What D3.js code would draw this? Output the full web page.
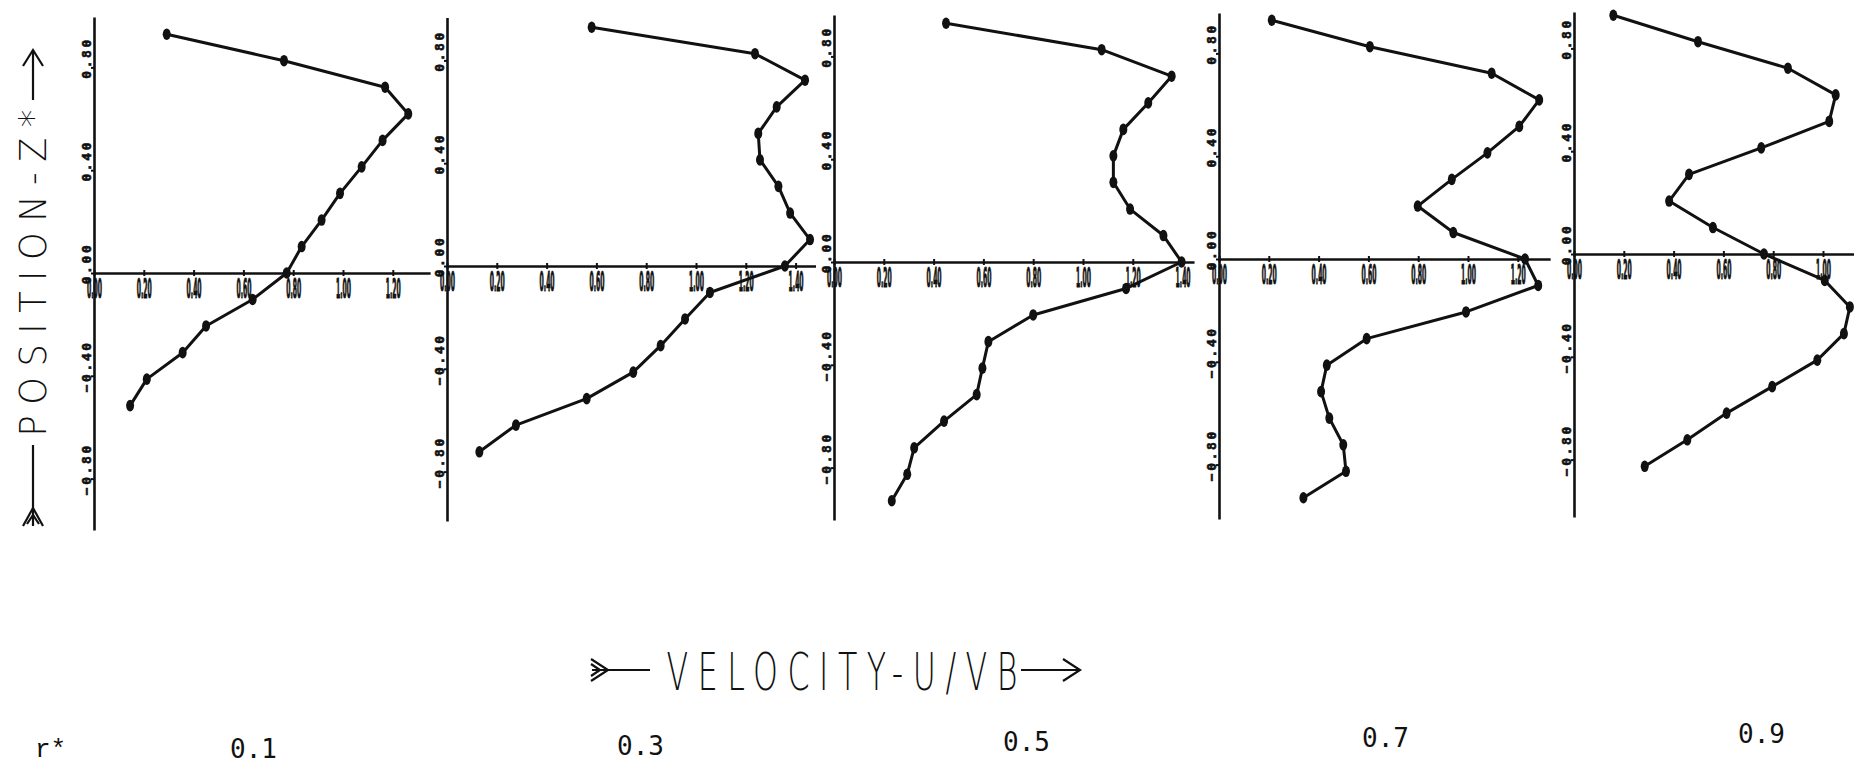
<!DOCTYPE html>
<html><head><meta charset="utf-8">
<script src="https://cdn.jsdelivr.net/npm/d3@7"></script>
<style>body{margin:0;background:#fff}svg{display:block}</style>
</head><body>
<svg id="c" width="1854" height="766"></svg>
<script>
// ---- data ----
const rStarLabel = "r*";
const rStar = ["0.1", "0.3", "0.5", "0.7", "0.9"];
// dimensionless position Z* of the measuring points (shared by all profiles)
const zLevels = [0.929, 0.826, 0.723, 0.619, 0.516, 0.413, 0.310, 0.206, 0.103, 0.000,
                 -0.103, -0.206, -0.310, -0.413, -0.516, -0.619, -0.723, -0.826, -0.929];
// velocity U/VB for each r*
const u01 = [0.292, 0.763, 1.169, 1.262, 1.159, 1.075, 0.988, 0.914, 0.834, 0.774, 0.637, 0.450, 0.356, 0.212, 0.145];
const u03 = [0.581, 1.237, 1.438, 1.324, 1.250, 1.257, 1.331, 1.378, 1.458, 1.357, 1.056, 0.956, 0.858, 0.748, 0.561, 0.277, 0.130];
const u05 = [0.450, 1.075, 1.356, 1.262, 1.162, 1.122, 1.122, 1.189, 1.323, 1.396, 1.173, 0.800, 0.620, 0.596, 0.573, 0.442, 0.322, 0.294, 0.232];
const u07 = [0.212, 0.606, 1.095, 1.286, 1.206, 1.078, 0.935, 0.798, 0.941, 1.229, 1.282, 0.992, 0.593, 0.433, 0.410, 0.443, 0.499, 0.510, 0.339];
const u09 = [0.158, 0.498, 0.859, 1.051, 1.025, 0.752, 0.462, 0.382, 0.558, 0.763, 1.007, 1.108, 1.084, 0.977, 0.796, 0.613, 0.455, 0.284];
// tick labels
const xTicks12 = [0.0, 0.2, 0.4, 0.6, 0.8, 1.0, 1.2];
const xTicks14 = [0.0, 0.2, 0.4, 0.6, 0.8, 1.0, 1.2, 1.4];
const xTicks10 = [0.0, 0.2, 0.4, 0.6, 0.8, 1.0];
const zTicks = [0.8, 0.4, 0.0, -0.4, -0.8];
// axis ranges (data units)
const uAxisMax = [1.35, 1.48, 1.446, 1.33, 1.125];
const zAxisMax = [0.996, 0.967, 0.961, 0.957, 0.942];
const zAxisMin = [-1.0, -0.992, -1.004, -1.012, -1.023];
const xLabel = "VELOCITY-U/VB";
const yLabel = "POSITION-Z*";

// ---- layout ----
const profiles = [u01, u03, u05, u07, u09];
const tickSets = [xTicks12, xTicks14, xTicks14, xTicks12, xTicks10];
const originX = [94, 447, 834, 1219, 1574];
const originY = [273, 266, 262, 259, 254];
const pxPerU = 249, pxPerZ = 257;
const rLabelPos = [[230, 758], [617, 755], [1003, 751], [1362, 747], [1738, 743]];

const svg = d3.select("#c");
const ink = "#111";
const fmt = d3.format(".2f");

profiles.forEach((u, p) => {
  const x0 = originX[p], y0 = originY[p];
  const x = d3.scaleLinear().domain([0, uAxisMax[p]]).range([x0, x0 + pxPerU * uAxisMax[p]]);
  const y = d3.scaleLinear().domain([zAxisMin[p], zAxisMax[p]])
              .range([y0 - pxPerZ * zAxisMin[p], y0 - pxPerZ * zAxisMax[p]]);
  const g = svg.append("g");

  // horizontal axis at Z* = 0
  const gx = g.append("g").attr("transform", `translate(0,${y(0)})`)
    .call(d3.axisBottom(x).tickValues(tickSets[p]).tickFormat(fmt).tickSizeInner(3).tickSizeOuter(0));
  gx.select(".domain").attr("stroke", ink).attr("stroke-width", 2.6);
  gx.selectAll(".tick line").attr("stroke", ink).attr("stroke-width", 2).attr("y1", -3).attr("y2", 3);
  gx.selectAll(".tick text")
    .attr("y", null).attr("dy", null)
    .attr("text-anchor", "middle")
    .attr("fill", ink).attr("stroke", ink).attr("stroke-width", 1.2)
    .attr("font-family", "DejaVu Sans, sans-serif")
    .attr("font-weight", "bold").attr("font-size", 26)
    .each(function () {
      const w = this.getComputedTextLength();
      d3.select(this).attr("transform", `translate(0,25) scale(${15 / w},1)`);
    });

  // vertical axis at U = 0
  const gy = g.append("g").attr("transform", `translate(${x(0)},0)`)
    .call(d3.axisLeft(y).tickValues(zTicks).tickFormat(fmt).tickSizeInner(3).tickSizeOuter(0));
  gy.select(".domain").attr("stroke", ink).attr("stroke-width", 2.6);
  gy.selectAll(".tick line").attr("stroke", ink).attr("stroke-width", 2);
  gy.selectAll(".tick text")
    .attr("x", null).attr("dy", null)
    .attr("text-anchor", "middle")
    .attr("transform", "translate(-3,-10) rotate(-90)")
    .attr("fill", ink).attr("stroke", ink).attr("stroke-width", 0.6)
    .attr("font-family", "DejaVu Sans Mono, monospace")
    .attr("font-weight", "bold").attr("font-size", 13)
    .attr("letter-spacing", 2.6);

  // profile
  const pts = u.map((v, i) => [v, zLevels[i]]);
  g.append("path").datum(pts)
    .attr("fill", "none").attr("stroke", ink).attr("stroke-width", 3)
    .attr("stroke-linejoin", "round")
    .attr("d", d3.line().x(d => x(d[0])).y(d => y(d[1])));
  g.selectAll("ellipse").data(pts).join("ellipse")
    .attr("cx", d => x(d[0])).attr("cy", d => y(d[1]))
    .attr("rx", 4).attr("ry", 5.8).attr("fill", ink);

  // r* value under the panel
  svg.append("text").attr("x", rLabelPos[p][0]).attr("y", rLabelPos[p][1])
    .attr("font-family", "DejaVu Sans Mono, monospace").attr("font-size", 26)
    .attr("fill", ink).text(rStar[p]);
});

svg.append("text").attr("x", 35).attr("y", 757)
  .attr("font-family", "Liberation Mono, monospace").attr("font-size", 26)
  .attr("fill", ink).text(rStarLabel);

// ---- axis titles (thin, narrow plotter lettering) ----
function plotterText(str, size, len, place) {
  const spacing = 0.3 * size;
  const t = svg.append("text").attr("fill", ink)
    .attr("font-family", "DejaVu Sans, sans-serif").attr("font-weight", 200)
    .attr("font-stretch", "condensed").attr("font-size", size)
    .attr("letter-spacing", spacing).text(str);
  const w = t.node().getComputedTextLength() - spacing;
  const s = len / w;
  t.attr("transform", place + ` scale(${s},1) translate(${-w / 2},0)`);
  return t;
}
plotterText(xLabel, 52, 351, "translate(842,690)");
plotterText(yLabel, 37, 327, "translate(46,273) rotate(-90)");

const arrows = svg.append("g").attr("fill", "none").attr("stroke", ink).attr("stroke-width", 2.2)
  .attr("stroke-linejoin", "miter");
// horizontal title arrow: tail (fletching) and head
arrows.append("path").attr("d", "M592,670 L650,670");
arrows.append("path").attr("d", "M591,659 L608,670 L591,681");
arrows.append("path").attr("d", "M591,664 L600,670 L591,676");
arrows.append("path").attr("d", "M1021,670 L1079,670");
arrows.append("path").attr("d", "M1063,659 L1080,670 L1063,681");
// vertical title arrow: tail at bottom, head at top
arrows.append("path").attr("d", "M33,445 L33,526");
arrows.append("path").attr("d", "M23,526 L33,508 L43,526");
arrows.append("path").attr("d", "M27,524 L33,515 L39,524");
arrows.append("path").attr("d", "M33,100 L33,50");
arrows.append("path").attr("d", "M23,66 L33,50 L43,66");
</script>
</body></html>
